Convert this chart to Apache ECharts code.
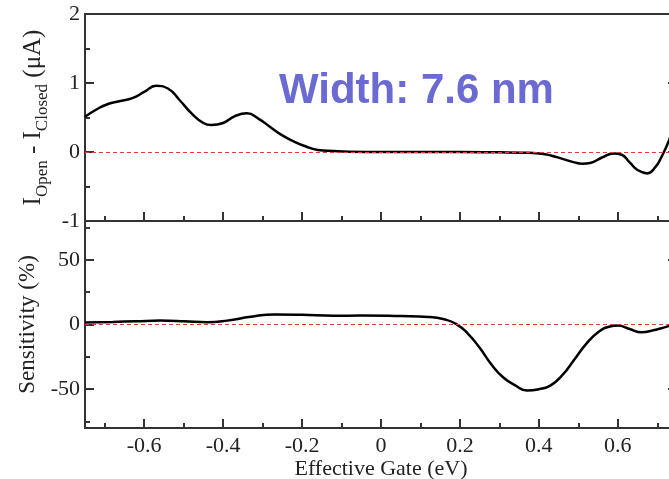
<!DOCTYPE html>
<html>
<head>
<meta charset="utf-8">
<script src="https://cdn.jsdelivr.net/npm/echarts@6/dist/echarts.min.js"></script>
<style>
  html, body { margin: 0; padding: 0; background: #fff; }
  #chart { width: 669px; height: 479px; }
</style>
</head>
<body>
<div id="chart"></div>
<script>
// gate voltage (eV) and current difference (uA), upper panel
const gateTop = [-0.75, -0.72, -0.69, -0.66, -0.63, -0.6, -0.57, -0.54, -0.51, -0.48, -0.45, -0.43, -0.4, -0.37, -0.34, -0.31, -0.28, -0.25, -0.22, -0.19, -0.16, -0.12, -0.08, 0, 0.1, 0.2, 0.3, 0.36, 0.4, 0.43, 0.46, 0.49, 0.51, 0.53, 0.56, 0.59, 0.61, 0.63, 0.65, 0.675, 0.695, 0.71, 0.73, 0.75]
const currentDiff = [0.51, 0.62, 0.7, 0.74, 0.78, 0.87, 0.96, 0.92, 0.75, 0.56, 0.42, 0.39, 0.42, 0.52, 0.56, 0.48, 0.36, 0.24, 0.15, 0.08, 0.03, 0.015, 0.005, 0, 0, 0, -0.005, -0.01, -0.02, -0.05, -0.1, -0.15, -0.17, -0.16, -0.08, -0.02, -0.04, -0.15, -0.26, -0.31, -0.22, -0.08, 0.17, 0.5]

// gate voltage (eV) and sensitivity (%), lower panel
const gateBottom = [-0.75, -0.68, -0.62, -0.56, -0.5, -0.44, -0.39, -0.33, -0.27, -0.2, -0.12, -0.05, 0.05, 0.12, 0.16, 0.19, 0.22, 0.25, 0.28, 0.31, 0.34, 0.37, 0.4, 0.43, 0.46, 0.49, 0.52, 0.55, 0.58, 0.6, 0.63, 0.66, 0.69, 0.72, 0.75]
const sensitivity = [1.5, 2, 2.5, 3, 2.6, 1.8, 3, 6, 7.8, 7.5, 6.7, 7, 6.5, 5.8, 4, 0.5, -7, -18, -31, -41, -47, -51, -50, -47, -39, -27, -15, -6, -1.5, -0.8, -3.5, -6, -4.5, -2, 0.5]

const topTicks = [-1, 0, 1, 2]
const topMinor = [-0.5, 0.5, 1.5]
const bottomTicks = [-50, 0, 50]
const bottomMinor = [-75, -25, 25, 75]
const gateTicks = [-0.6, -0.4, -0.2, 0, 0.2, 0.4, 0.6]
const gateMinor = [-0.7, -0.5, -0.3, -0.1, 0.1, 0.3, 0.5, 0.7]

const serif = 'Liberation Serif'
const axisColor = '#333'

function pairs(xs, ys) {
  return xs.map((x, i) => [x, ys[i]])
}

const chart = echarts.init(document.getElementById('chart'))

function xAxisFor(gridIndex, values, len, labels, name) {
  return {
    type: 'value',
    gridIndex: gridIndex,
    min: -0.75,
    max: 0.75,
    position: 'bottom',
    axisLine: { show: false, onZero: false },
    splitLine: { show: false },
    axisTick: { show: true, inside: true, length: len, customValues: values, lineStyle: { color: axisColor, width: 2 } },
    axisLabel: labels
      ? { show: true, customValues: values, fontFamily: serif, fontSize: 22, color: '#222', margin: 7 }
      : { show: false },
    name: name || '',
    nameLocation: 'middle',
    nameGap: 28,
    nameTextStyle: { fontFamily: serif, fontSize: 22, color: '#222' }
  }
}

function yAxisFor(gridIndex, min, max, values, len, position, labels, name, nameGap, rich) {
  return {
    type: 'value',
    gridIndex: gridIndex,
    min: min,
    max: max,
    position: position,
    axisLine: { show: false, onZero: false },
    splitLine: { show: false },
    axisTick: { show: true, inside: true, length: len, customValues: values, lineStyle: { color: axisColor, width: 2 } },
    axisLabel: labels
      ? { show: true, customValues: values, fontFamily: serif, fontSize: 22, color: '#222', margin: 5 }
      : { show: false },
    name: name || '',
    nameLocation: 'middle',
    nameGap: nameGap || 0,
    nameRotate: 90,
    nameTextStyle: Object.assign({ fontFamily: serif, fontSize: 23, color: '#222' }, rich ? { rich: rich } : {})
  }
}

function zeroLine() {
  return {
    symbol: 'none',
    silent: true,
    label: { show: false },
    lineStyle: { color: '#e03c3c', type: [4, 3], width: 1 },
    data: [{ yAxis: 0 }]
  }
}

chart.setOption({
  backgroundColor: '#fff',
  animation: false,
  grid: [
    { left: 85, width: 592, top: 14, height: 207, outerBoundsMode: 'none', show: true, borderColor: axisColor, borderWidth: 2, backgroundColor: 'transparent' },
    { left: 85, width: 592, top: 221, height: 207, outerBoundsMode: 'none', show: true, borderColor: axisColor, borderWidth: 2, backgroundColor: 'transparent' }
  ],
  xAxis: [
    xAxisFor(0, gateTicks, 9, false),
    xAxisFor(0, gateMinor, 5, false),
    xAxisFor(1, gateTicks, 9, true, 'Effective Gate (eV)'),
    xAxisFor(1, gateMinor, 5, false)
  ],
  yAxis: [
    yAxisFor(0, -1, 2, topTicks, 9, 'left', true,
      '{m|I}{s|Open}{m| - I}{s|Closed}{m| (μA)}', 30,
      {
        m: { fontFamily: serif, fontSize: 25, lineHeight: 35, verticalAlign: 'middle', color: '#222' },
        s: { fontFamily: serif, fontSize: 17, lineHeight: 17, verticalAlign: 'bottom', color: '#222' }
      }),
    yAxisFor(0, -1, 2, topMinor, 5, 'left', false),
    yAxisFor(0, -1, 2, topTicks, 9, 'right', false),
    yAxisFor(1, -80, 80, bottomTicks, 9, 'left', true, 'Sensitivity (%)', 46),
    yAxisFor(1, -80, 80, bottomMinor, 5, 'left', false),
    yAxisFor(1, -80, 80, bottomTicks, 9, 'right', false)
  ],
  graphic: [
    {
      type: 'text',
      left: 279,
      top: 70,
      style: {
        text: 'Width: 7.6 nm',
        fontFamily: 'Liberation Sans',
        fontWeight: 'bold',
        fontSize: 42,
        fill: '#6a6ad2'
      }
    }
  ],
  series: [
    {
      type: 'line',
      xAxisIndex: 0,
      yAxisIndex: 0,
      data: pairs(gateTop, currentDiff),
      smooth: 0.5,
      showSymbol: false,
      lineStyle: { color: '#000', width: 2.5 },
      markLine: zeroLine(),
      z: 3
    },
    {
      type: 'line',
      xAxisIndex: 2,
      yAxisIndex: 3,
      data: pairs(gateBottom, sensitivity),
      smooth: 0.5,
      showSymbol: false,
      lineStyle: { color: '#000', width: 2.5 },
      markLine: zeroLine(),
      z: 3
    }
  ]
})
</script>
</body>
</html>
